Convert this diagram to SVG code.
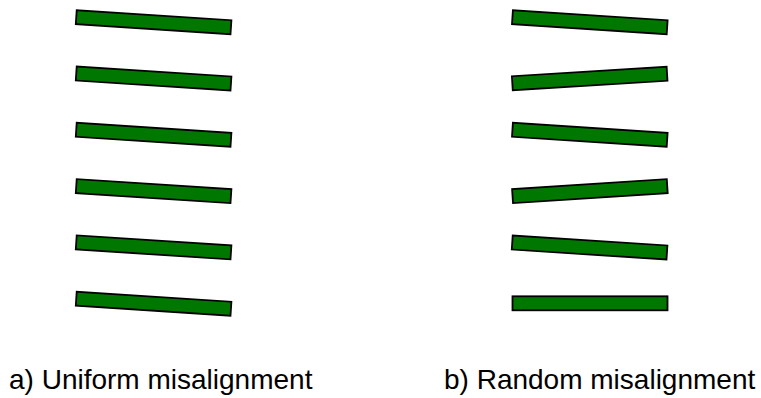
<svg xmlns="http://www.w3.org/2000/svg" width="761" height="398" viewBox="0 0 761 398">
<defs>
<style>
.bar{fill:#007800;stroke:#000;stroke-width:1.8;}
.lbl{font-family:"Liberation Sans",Arial,sans-serif;font-size:28px;fill:#000;}
</style>
<rect id="b" class="bar" x="-77.5" y="-7" width="155" height="14"/>
</defs>
<rect width="761" height="398" fill="#fff"/>
<g id="uniform">
<g id="a1"><use href="#b" transform="translate(153.6,22.2) rotate(3.7)"/></g>
<g id="a2"><use href="#b" transform="translate(153.6,78.5) rotate(3.7)"/></g>
<g id="a3"><use href="#b" transform="translate(153.6,134.8) rotate(3.7)"/></g>
<g id="a4"><use href="#b" transform="translate(153.6,191.1) rotate(3.7)"/></g>
<g id="a5"><use href="#b" transform="translate(153.6,247.4) rotate(3.7)"/></g>
<g id="a6"><use href="#b" transform="translate(153.6,303.7) rotate(3.7)"/></g>
</g>
<g id="random">
<g id="r1"><use href="#b" transform="translate(589.8,22.2) rotate(3.7)"/></g>
<g id="r2"><use href="#b" transform="translate(589.7,78.5) rotate(-3.5)"/></g>
<g id="r3"><use href="#b" transform="translate(589.8,134.8) rotate(3.7)"/></g>
<g id="r4"><use href="#b" transform="translate(589.9,191.1) rotate(-3.7)"/></g>
<g id="r5"><use href="#b" transform="translate(589.6,247.5) rotate(3.7)"/></g>
<g id="r6"><use href="#b" transform="translate(590,303.3)"/></g>
</g>
<g id="connectors"/>
<text class="lbl" x="9" y="389">a) Uniform misalignment</text>
<text class="lbl" x="444" y="389">b) Random misalignment</text>
</svg>
